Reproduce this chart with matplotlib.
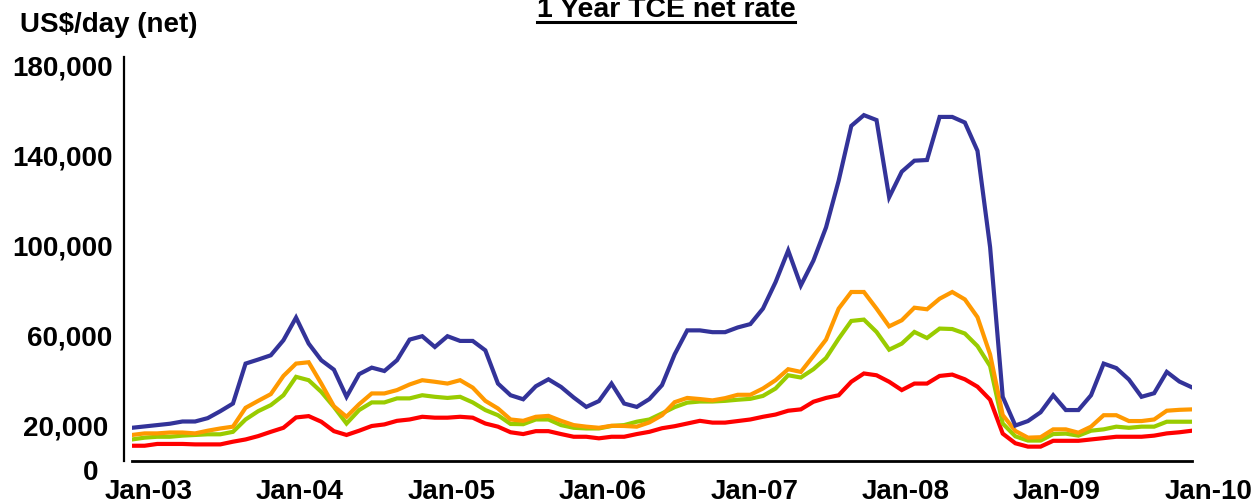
import matplotlib
matplotlib.use("Agg")
import matplotlib.pyplot as plt
import matplotlib.transforms as mtransforms
from matplotlib.lines import Line2D

# monthly TCE net rates, Jan-03 .. Jan-10, US$ thousand/day
months = list(range(85))

blue = [14.8, 15.4, 16.0, 16.6, 17.6, 17.6, 19.1, 22.2, 25.6, 43.4,
        45.2, 47.1, 53.8, 63.9, 52.3, 44.9, 40.7, 28.6, 38.7, 41.6,
        40.1, 44.9, 54.1, 55.6, 50.8, 55.6, 53.5, 53.5, 49.3, 34.5,
        29.3, 27.5, 33.3, 36.4, 33.0, 28.3, 24.1, 26.7, 34.5, 25.6,
        24.1, 27.6, 33.8, 47.5, 58.2, 58.2, 57.4, 57.4, 59.5, 61.0,
        67.9, 79.7, 93.8, 78.2, 89.3, 104.1, 124.9, 149.3, 154.1, 151.9,
        117.5, 128.9, 133.8, 134.1, 153.3, 153.3, 150.8, 138.2, 95.3, 28.6,
        15.8, 17.8, 21.7, 29.3, 22.7, 22.7, 29.3, 43.4, 41.4, 36.3,
        28.6, 30.2, 39.7, 35.4, 32.8]

orange = [11.6, 12.3, 12.3, 12.7, 12.7, 12.3, 13.5, 14.5, 15.3, 23.7,
          26.8, 29.8, 37.9, 43.4, 44.0, 34.5, 24.4, 19.7, 25.3, 30.1,
          30.1, 31.6, 34.1, 36.0, 35.3, 34.5, 36.0, 32.7, 26.8, 23.4,
          18.5, 17.9, 19.7, 20.1, 17.9, 16.0, 15.3, 14.8, 15.7, 15.6,
          15.3, 17.2, 20.4, 26.2, 28.1, 27.6, 27.0, 28.0, 29.5, 29.5,
          32.3, 36.0, 40.9, 39.7, 46.8, 54.1, 67.9, 75.3, 75.3, 67.9,
          60.0, 62.7, 68.3, 67.6, 72.3, 75.3, 72.0, 64.1, 47.5, 20.5,
          13.4, 10.4, 10.6, 14.1, 14.1, 12.6, 15.3, 20.4, 20.4, 17.8,
          17.8, 18.5, 22.4, 22.8, 23.0]

green = [9.6, 10.4, 10.8, 10.8, 11.3, 11.6, 11.9, 11.9, 13.0, 18.5,
         22.2, 24.9, 29.3, 37.5, 36.0, 30.8, 24.1, 16.7, 22.7, 26.1,
         26.1, 27.9, 27.9, 29.3, 28.6, 28.1, 28.6, 26.1, 22.7, 20.4,
         16.5, 16.4, 18.5, 18.5, 16.0, 14.8, 14.5, 14.5, 15.6, 16.0,
         17.5, 18.5, 21.2, 24.0, 26.0, 26.5, 26.5, 26.8, 27.3, 27.7,
         29.0, 32.3, 38.2, 37.2, 40.9, 45.9, 54.5, 62.4, 63.0, 57.5,
         49.6, 52.3, 57.5, 54.8, 59.0, 58.8, 56.8, 51.2, 42.3, 16.7,
         11.0, 9.1, 9.1, 12.0, 12.2, 11.3, 13.5, 14.1, 15.3, 14.8,
         15.3, 15.3, 17.5, 17.5, 17.5]

red = [6.8, 6.8, 7.6, 7.6, 7.6, 7.4, 7.4, 7.4, 8.6, 9.6,
       11.1, 13.0, 14.8, 19.4, 20.0, 17.5, 13.3, 11.6, 13.5, 15.6,
       16.3, 17.9, 18.5, 19.7, 19.3, 19.3, 19.7, 19.3, 16.7, 15.3,
       12.8, 12.0, 13.3, 13.3, 12.0, 10.8, 10.8, 10.1, 10.8, 10.8,
       12.0, 13.0, 14.6, 15.5, 16.7, 17.9, 17.1, 17.1, 17.8, 18.5,
       19.7, 20.7, 22.4, 23.0, 26.4, 28.1, 29.3, 35.3, 39.0, 38.2,
       35.3, 31.6, 34.5, 34.5, 37.9, 38.5, 36.4, 33.1, 27.3, 12.2,
       7.9, 6.4, 6.4, 9.0, 9.0, 9.0, 9.6, 10.2, 10.8, 10.8,
       10.8, 11.3, 12.3, 12.8, 13.5]

x_labels = ["Jan-03", "Jan-04", "Jan-05", "Jan-06", "Jan-07", "Jan-08", "Jan-09", "Jan-10"]
y_ticks = [0, 20000, 60000, 100000, 140000, 180000]

plt.rcParams["font.family"] = ["Liberation Sans", "DejaVu Sans"]
plt.rcParams["font.weight"] = "bold"

W, H = 1258, 503
fig = plt.figure(figsize=(W / 100, H / 100), dpi=100)
ax = fig.add_axes([132 / W, 1 - 461 / H, (1192 - 132) / W, (461 - 57) / H])

for series, col in [(red, "#FF0000"), (green, "#99CC00"),
                    (orange, "#FF9900"), (blue, "#333399")]:
    ax.plot(months, [v * 1000 for v in series], color=col, lw=3.0,
            solid_joinstyle="miter")

ax.set_xlim(0, 84)
ax.set_ylim(0, 180000)

for s in ["top", "right"]:
    ax.spines[s].set_visible(False)
ax.spines["left"].set_position(("outward", 6))
ax.spines["left"].set_linewidth(1.6)
ax.spines["bottom"].set_linewidth(2.0)

ax.set_xticks(months[::12])
ax.set_xticklabels(x_labels, fontsize=20, fontweight="bold")
ax.set_yticks(y_ticks)
ax.set_yticklabels([f"{v:,}" for v in y_ticks], fontsize=20, fontweight="bold")
ax.tick_params(axis="x", length=0, pad=13)
ax.tick_params(axis="y", length=0, pad=8)

# labels sit a bit off their tick positions in the original
for lab in ax.get_xticklabels():
    lab.set_transform(lab.get_transform() +
                      mtransforms.ScaledTranslation(16.5 / 100, 0, fig.dpi_scale_trans))
ydx = {"0": -14, "20,000": -4}
for lab in ax.get_yticklabels():
    dx = ydx.get(lab.get_text(), 0)
    lab.set_transform(lab.get_transform() +
                      mtransforms.ScaledTranslation(dx / 100, -9 / 100, fig.dpi_scale_trans))

fig.text(20 / W, 1 - 32 / H, "US$/day (net)", fontsize=20, fontweight="bold",
         ha="left", va="baseline")
title = fig.text(666 / W, 1 - 17 / H, "1 Year TCE net rate", fontsize=20.5,
                 fontweight="bold", ha="center", va="baseline")

# underline the title
fig.canvas.draw()
bb = title.get_window_extent(fig.canvas.get_renderer())
uy = 1 - 22 / H
fig.add_artist(Line2D([bb.x0 / W, bb.x1 / W], [uy, uy], color="black", lw=2.2,
                      transform=fig.transFigure))

fig.savefig("out.png", dpi=100)
